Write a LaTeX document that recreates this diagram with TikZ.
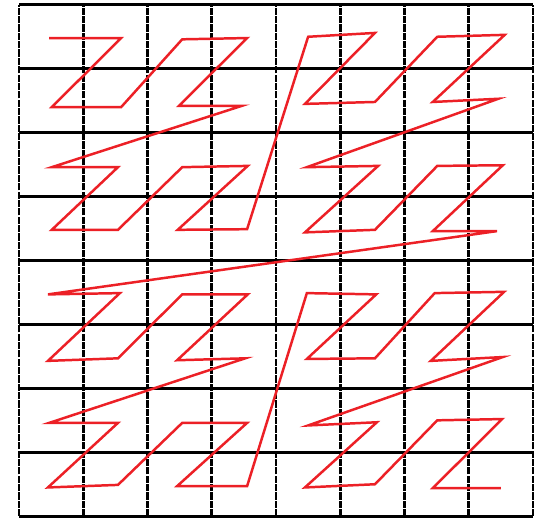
\documentclass[tikz,border=0pt]{standalone}
\definecolor{zred}{RGB}{236,32,38}
\begin{document}
\begin{tikzpicture}[x=1cm,y=0.995cm,
  hline/.style={draw=black, line width=1.5pt},
  vline/.style={draw=black, line width=1.3pt, dash pattern=on 3.2pt off 0.5pt},
  zcurve/.style={draw=zred, line width=1.1pt, line join=miter}]
\useasboundingbox (-0.296,-0.031) rectangle (8.031,8.075);

% horizontal grid lines
\draw[hline] (0,0) -- (8,0);
\draw[hline] (0,1) -- (8,1);
\draw[hline] (0,2) -- (8,2);
\draw[hline] (0,3) -- (8,3);
\draw[hline] (0,4) -- (8,4);
\draw[hline] (0,5) -- (8,5);
\draw[hline] (0,6) -- (8,6);
\draw[hline] (0,7) -- (8,7);
\draw[hline] (0,8) -- (8,8);

% vertical grid lines
\draw[vline] (0,0) -- (0,8);
\draw[vline] (1,0) -- (1,8);
\draw[vline] (2,0) -- (2,8);
\draw[vline] (3,0) -- (3,8);
\draw[vline] (4,0) -- (4,8);
\draw[vline] (5,0) -- (5,8);
\draw[vline] (6,0) -- (6,8);
\draw[vline] (7,0) -- (7,8);
\draw[vline] (8,0) -- (8,8);

% z-order curve
\draw[zcurve]
  (0.47,7.48) -- (1.59,7.48) -- (0.51,6.40) -- (1.59,6.40)
  -- (2.54,7.46) -- (3.55,7.48) -- (2.49,6.42) -- (3.47,6.42)
  -- (0.51,5.46) -- (1.54,5.46) -- (0.51,4.48) -- (1.54,4.48)
  -- (2.54,5.46) -- (3.56,5.48) -- (2.47,4.48) -- (3.55,4.49)
  -- (4.50,7.50) -- (5.54,7.56) -- (4.45,6.45) -- (5.54,6.48)
  -- (6.51,7.50) -- (7.56,7.53) -- (6.44,6.48) -- (7.46,6.53)
  -- (4.48,5.46) -- (5.59,5.48) -- (4.45,4.44) -- (5.54,4.48)
  -- (6.51,5.48) -- (7.53,5.49) -- (6.44,4.46) -- (7.44,4.46)
  -- (0.45,3.47) -- (1.57,3.49) -- (0.45,2.43) -- (1.54,2.47)
  -- (2.54,3.47) -- (3.56,3.47) -- (2.46,2.44) -- (3.52,2.47)
  -- (0.47,1.46) -- (1.54,1.46) -- (0.45,0.45) -- (1.54,0.49)
  -- (2.54,1.46) -- (3.55,1.46) -- (2.46,0.47) -- (3.55,0.47)
  -- (4.48,3.49) -- (5.56,3.47) -- (4.48,2.46) -- (5.54,2.47)
  -- (6.47,3.49) -- (7.55,3.51) -- (6.41,2.43) -- (7.53,2.49)
  -- (4.50,1.42) -- (5.57,1.47) -- (4.45,0.45) -- (5.54,0.50)
  -- (6.51,1.50) -- (7.52,1.52) -- (6.44,0.44) -- (7.50,0.44);
\end{tikzpicture}
\end{document}
